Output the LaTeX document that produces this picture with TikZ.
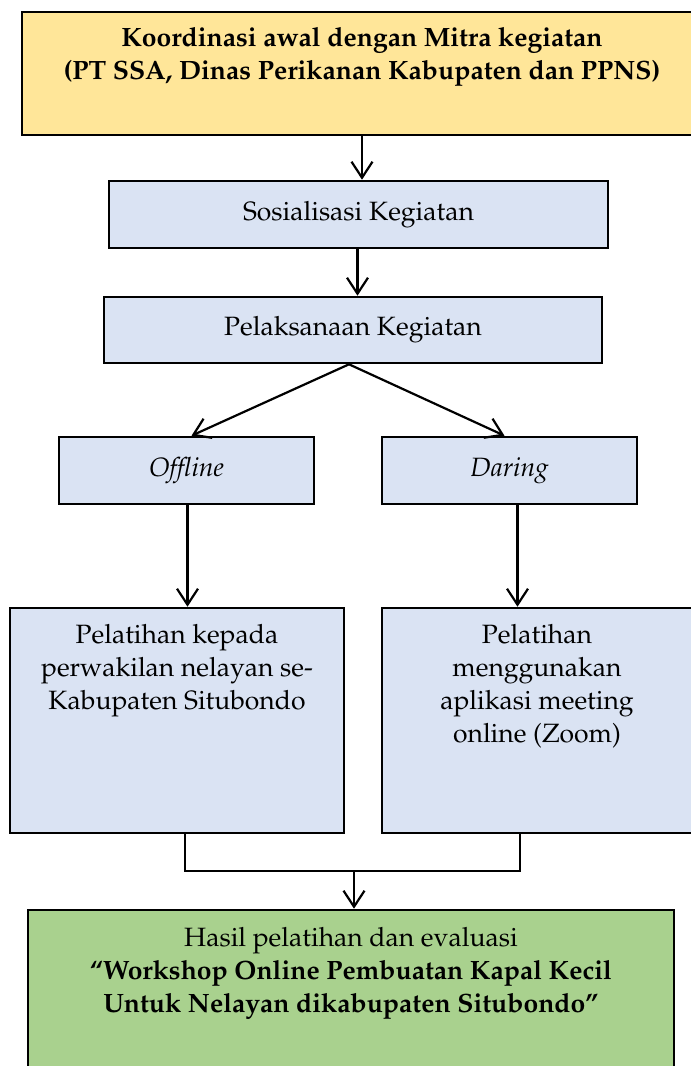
\documentclass[tikz,border=0pt]{standalone}
\usepackage[T1]{fontenc}
\usepackage{mathpazo}
\usetikzlibrary{arrows.meta}
\definecolor{kuning}{HTML}{FFE699}
\definecolor{biru}{HTML}{DAE3F3}
\definecolor{hijau}{HTML}{A9D18E}
\begin{document}
\begin{tikzpicture}
  [x=1pt,y=-1pt,
   every node/.style={font=\fontsize{26.5}{33}\selectfont},
   kotak/.style={draw,rectangle,line width=2.6pt,inner sep=0pt,fill=biru},
   isi/.style={align=center,inner sep=0pt,anchor=north},
   panah/.style={line width=2.2pt,arrows={-{Straight Barb[length=16pt,width=21pt]}}},
   garis/.style={line width=2.2pt}]
  \path[use as bounding box] (0,0) rectangle (691,1066);
  \clip (0,0) rectangle (691,1066);

  \node[kotak,fill=kuning,minimum width=680pt,minimum height=123pt] (n1) at (362,73.5) {};
  \node[isi,font=\fontsize{26.5}{33}\selectfont\bfseries] (t1) at (362,27)
    {Koordinasi awal dengan Mitra kegiatan\\(PT SSA, Dinas Perikanan Kabupaten dan PPNS)};
  \node[kotak,minimum width=499pt,minimum height=67pt] (n2) at (358.5,214.5) {Sosialisasi Kegiatan};
  \node[kotak,minimum width=498pt,minimum height=66pt] (n3) at (353,330) {Pelaksanaan Kegiatan};
  \node[kotak,minimum width=255pt,minimum height=67pt] (n4) at (186.5,470.5) {\itshape Offline};
  \node[kotak,minimum width=255pt,minimum height=67pt] (n5) at (509.5,470.5) {\itshape Daring};
  \node[kotak,minimum width=334pt,minimum height=225pt] (n6) at (177,720.5) {};
  \node[isi] (t6) at (177,624)
    {Pelatihan kepada\\perwakilan nelayan se-\\Kabupaten Situbondo};
  \node[kotak,minimum width=312pt,minimum height=225pt] (n7) at (538,720.5) {};
  \node[isi] (t7) at (537,624)
    {Pelatihan\\menggunakan\\aplikasi meeting\\online (Zoom)};
  \node[kotak,fill=hijau,minimum width=646pt,minimum height=180pt] (n8) at (351,1000) {};
  \node[isi] (t8) at (351,927)
    {Hasil pelatihan dan evaluasi\\\textbf{``Workshop Online Pembuatan Kapal Kecil}\\\textbf{Untuk Nelayan dikabupaten Situbondo''}};
  \coordinate (c1) at (354,871);

  \draw[panah] (n1.south) -- (n1.south |- n2.north);
  \draw[panah] ([xshift=-1pt]n2.south) -- ([xshift=-1pt]n2.south |- n3.north);
  \draw[panah] ([xshift=-4pt]n3.south) -- ([xshift=5pt]n4.north);
  \draw[panah] ([xshift=-4pt]n3.south) -- ([xshift=-5pt]n5.north);
  \draw[panah] ([xshift=1pt]n4.south) -- ([xshift=1pt]n4.south |- n6.north);
  \draw[panah] ([xshift=8pt]n5.south) -- ([xshift=8pt]n5.south |- n7.north);
  \draw[garis] ([xshift=8pt]n6.south) |- (c1) -| ([xshift=-18pt]n7.south);
  \draw[panah] (c1) -- (c1 |- n8.north);
\end{tikzpicture}
\end{document}
